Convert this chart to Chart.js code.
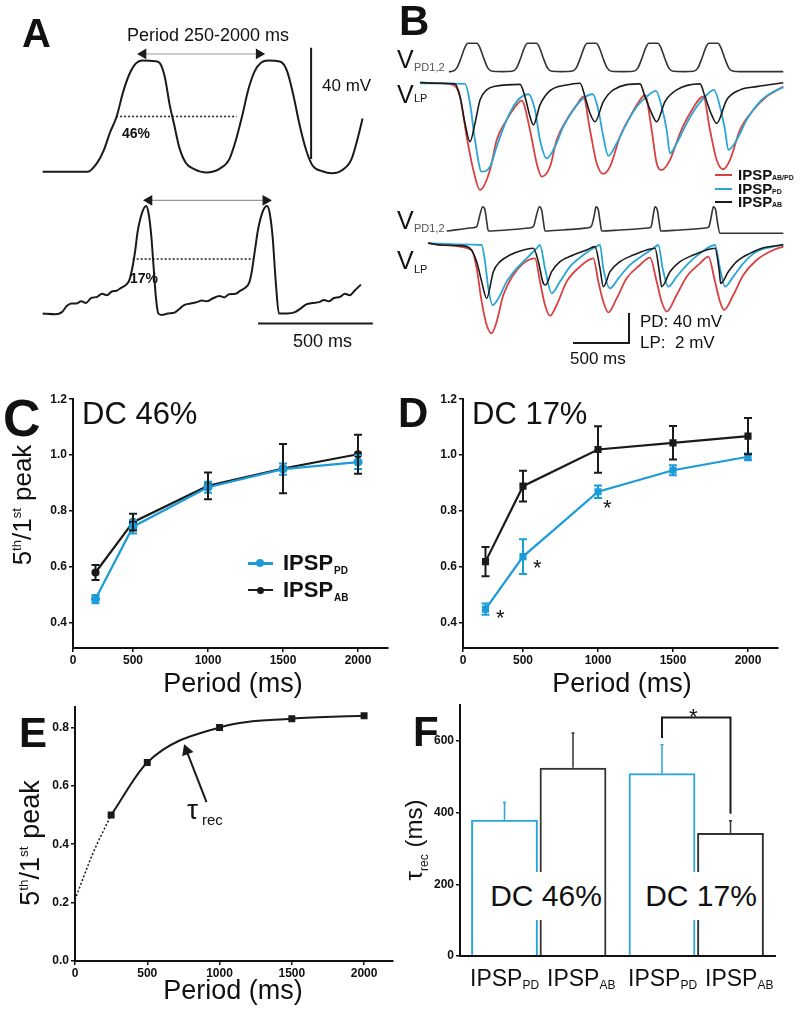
<!DOCTYPE html>
<html>
<head>
<meta charset="utf-8">
<script src="https://cdn.jsdelivr.net/npm/chart.js@4.4.1/dist/chart.umd.min.js"></script>
<style>
html, body { margin: 0; padding: 0; background: #fff; }
#fig { position: relative; width: 800px; height: 1015px; overflow: hidden; font-family: "Liberation Sans", Arial, sans-serif; color: #111; }
#fig canvas { position: absolute; }
.t { position: absolute; line-height: 1; white-space: pre; }
.b { font-weight: bold; }
.rot { position: absolute; line-height: 1; white-space: pre; transform: translate(-50%, -50%) rotate(-90deg); }
sup { font-size: 0.5em; vertical-align: 0.8em; line-height: 0; }
sub { line-height: 0; }
.box { position: absolute; background: #fff; font-size: 30px; line-height: 48px; height: 48px; text-align: center; }
.mk { position: absolute; }
</style>
</head>
<body>
<div id="fig">
<canvas id="aTop" style="left:30px;top:40px" width="350" height="150"></canvas>
<canvas id="aBot" style="left:30px;top:185px" width="350" height="150"></canvas>
<canvas id="bTop" style="left:415px;top:38px" width="375" height="162"></canvas>
<canvas id="bBot" style="left:415px;top:195px" width="375" height="155"></canvas>
<canvas id="cChart" style="left:0px;top:390px" width="400" height="305"></canvas>
<canvas id="dChart" style="left:390px;top:390px" width="410" height="305"></canvas>
<canvas id="eChart" style="left:0px;top:695px" width="400" height="320"></canvas>
<canvas id="fChart" style="left:390px;top:695px" width="410" height="320"></canvas>

<!-- A -->
<div class="t b" style="left:22px;top:13px;font-size:40px">A</div>
<div class="t" style="left:127px;top:26px;font-size:18px">Period 250-2000 ms</div>
<div class="t" style="left:322px;top:77px;font-size:17px">40 mV</div>
<div class="t b" style="left:122px;top:126px;font-size:14px">46%</div>
<div class="t b" style="left:130px;top:271px;font-size:14px">17%</div>
<div class="t" style="left:293px;top:332px;font-size:18px">500 ms</div>

<!-- B -->
<div class="t b" style="left:399px;top:0px;font-size:42px">B</div>
<div class="t" style="left:397px;top:47px;font-size:25px">V</div>
<div class="t" style="left:414px;top:62px;font-size:11px;color:#555">PD1,2</div>
<div class="t" style="left:397px;top:82px;font-size:25px">V</div>
<div class="t" style="left:414px;top:93px;font-size:11px">LP</div>
<div class="t" style="left:397px;top:208px;font-size:25px">V</div>
<div class="t" style="left:414px;top:223px;font-size:11px;color:#555">PD1,2</div>
<div class="t" style="left:397px;top:248px;font-size:25px">V</div>
<div class="t" style="left:414px;top:264px;font-size:11px">LP</div>
<div class="mk" style="left:715px;top:174px;width:17px;height:2px;background:#d94040"></div>
<div class="t b" style="left:738px;top:167px;font-size:15px">IPSP</div>
<div class="t b" style="left:772px;top:174px;font-size:7px">AB/PD</div>
<div class="mk" style="left:715px;top:188px;width:17px;height:2px;background:#2aa5d6"></div>
<div class="t b" style="left:738px;top:181px;font-size:15px">IPSP</div>
<div class="t b" style="left:772px;top:188px;font-size:7px">PD</div>
<div class="mk" style="left:715px;top:201px;width:17px;height:2px;background:#1a1a1a"></div>
<div class="t b" style="left:738px;top:194px;font-size:15px">IPSP</div>
<div class="t b" style="left:772px;top:201px;font-size:7px">AB</div>
<div class="t" style="left:640px;top:313px;font-size:17px">PD: 40 mV</div>
<div class="t" style="left:640px;top:334px;font-size:17px">LP:  2 mV</div>
<div class="t" style="left:570px;top:350px;font-size:17px">500 ms</div>

<!-- C -->
<div class="t b" style="left:3px;top:392px;font-size:52px">C</div>
<div class="t" style="left:82px;top:398px;font-size:31px">DC 46%</div>
<div class="rot" style="left:22px;top:505px;font-size:26px">5<sup>th</sup>/1<sup>st</sup> peak</div>
<div class="t" style="left:133px;top:670px;width:200px;text-align:center;font-size:27px">Period (ms)</div>
<div class="mk" style="left:248px;top:562px;width:25px;height:3px;background:#1b9bd8"></div>
<div class="mk" style="left:256px;top:559px;width:8px;height:8px;border-radius:50%;background:#1b9bd8"></div>
<div class="t b" style="left:283px;top:552px;font-size:22px">IPSP</div>
<div class="t b" style="left:334px;top:566px;font-size:10px">PD</div>
<div class="mk" style="left:248px;top:589px;width:25px;height:2px;background:#1a1a1a"></div>
<div class="mk" style="left:257px;top:587px;width:7px;height:7px;border-radius:50%;background:#1a1a1a"></div>
<div class="t b" style="left:283px;top:579px;font-size:22px">IPSP</div>
<div class="t b" style="left:334px;top:593px;font-size:10px">AB</div>

<!-- D -->
<div class="t b" style="left:398px;top:392px;font-size:42px">D</div>
<div class="t" style="left:472px;top:398px;font-size:31px">DC 17%</div>
<div class="t" style="left:522px;top:670px;width:200px;text-align:center;font-size:27px">Period (ms)</div>
<div class="t" style="left:496px;top:607px;font-size:22px">*</div>
<div class="t" style="left:533px;top:557px;font-size:22px">*</div>
<div class="t" style="left:603px;top:497px;font-size:22px">*</div>

<!-- E -->
<div class="t b" style="left:19px;top:712px;font-size:42px">E</div>
<div class="rot" style="left:30px;top:843px;font-size:27px">5<sup>th</sup>/1<sup>st</sup> peak</div>
<div class="t" style="left:133px;top:977px;width:200px;text-align:center;font-size:27px">Period (ms)</div>
<div class="t" style="left:187px;top:796px;font-size:28px">τ</div>
<div class="t" style="left:202px;top:812px;font-size:15px">rec</div>

<!-- F -->
<div class="t b" style="left:413px;top:711px;font-size:42px">F</div>
<div class="rot" style="left:414px;top:840px;font-size:24px">τ<sub style="font-size:12px">rec</sub> (ms)</div>
<div class="box" style="left:488px;top:872px;width:116px">DC 46%</div>
<div class="box" style="left:644px;top:872px;width:114px">DC 17%</div>
<div class="t" style="left:689px;top:706px;font-size:22px">*</div>
<div class="t" style="left:470px;top:967px;font-size:23px">IPSP<sub style="font-size:12px;vertical-align:-3px">PD</sub></div>
<div class="t" style="left:547px;top:967px;font-size:23px">IPSP<sub style="font-size:12px;vertical-align:-3px">AB</sub></div>
<div class="t" style="left:628px;top:967px;font-size:23px">IPSP<sub style="font-size:12px;vertical-align:-3px">PD</sub></div>
<div class="t" style="left:705px;top:967px;font-size:23px">IPSP<sub style="font-size:12px;vertical-align:-3px">AB</sub></div>
</div>

<script>
// ---- panel A traces: [ms, mV] ----
const aTop = [[0,0],[196,0],[238,3.3],[266,7.7],[294,14.3],[322,19.8],[350,28.6],[378,35.2],[406,39.0],[434,40.1],[490,39.8],[511,39.0],[532,34.1],[553,24.2],[574,16.5],[595,8.8],[623,3.3],[658,1.1],[714,-0.2],[770,1.1],[812,4.4],[840,11.0],[868,19.8],[896,29.7],[924,36.3],[952,39.3],[980,40.1],[1036,39.6],[1064,36.3],[1092,27.5],[1120,16.5],[1148,7.7],[1176,2.2],[1218,0.2],[1260,-0.5],[1302,0.5],[1344,4.4],[1372,12.1],[1393,19.2]]
const aBot = [[0,0],[56,-0.3],[84,0.5],[105,2.7],[126,3.6],[147,3.6],[168,4.4],[189,3.8],[210,5.5],[238,6.0],[259,7.1],[280,6.6],[301,7.9],[322,8.2],[343,9.3],[364,10.4],[378,12.1],[392,17.0],[403,22.5],[413,29.1],[427,34.6],[441,37.9],[451,38.7],[462,35.7],[473,28.0],[483,17.0],[493,6.0],[504,0],[518,-0.5],[546,0],[574,0.3],[595,1.6],[616,3.0],[644,3.6],[672,4.1],[693,4.7],[714,4.4],[742,5.5],[770,6.3],[791,5.8],[812,6.9],[840,7.1],[861,8.2],[882,9.3],[899,11.0],[910,14.8],[924,22.5],[938,30.2],[959,36.8],[977,38.7],[987,36.8],[1001,28.0],[1015,11.5],[1029,0],[1064,0],[1099,0.5],[1120,1.6],[1148,3.3],[1176,3.8],[1204,4.1],[1225,4.9],[1246,4.4],[1267,5.5],[1295,6.0],[1316,7.1],[1337,6.6],[1358,8.2],[1386,10.4]]
const aTopHalf = [[320,19.9],[845,19.9]]
const aBotHalf = [[392,19.6],[917,19.6]]
const aTopPeriod = [[438,42.4],[942,42.4]]
const aBotPeriod = [[464,40.7],[971,40.7]]
const aVoltBar = [[1169,4.6],[1169,44.6]]
const aTimeBar = [[938,-3.6],[1438,-3.6]]

// ---- panel B traces: [ms, mV] ----
const bTopPD = [[80,0],[111,0.5],[151,5],[191,20],[226,35],[251,40],[331,40],[356,35],[391,20],[431,5],[471,0.5],[560,0],[648,0.5],[688,5],[728,20],[763,35],[788,40],[868,40],[893,35],[928,20],[968,5],[1008,0.5],[1097,0],[1185,0.5],[1225,5],[1265,20],[1300,35],[1325,40],[1405,40],[1430,35],[1465,20],[1505,5],[1545,0.5],[1643,0],[1740,0.5],[1780,5],[1820,20],[1855,35],[1880,40],[1960,40],[1985,35],[2020,20],[2060,5],[2100,0.5],[2190,0],[2280,0.5],[2320,5],[2360,20],[2395,35],[2420,40],[2500,40],[2525,35],[2560,20],[2600,5],[2640,0.5],[2700,0],[3090,0]]
const bTopRed = [[-180,0.05],[0,0],[120,-0.11],[180,-0.89],[240,-3.56],[300,-5.78],[360,-7.11],[450,-5.78],[510,-3.78],[600,-2.44],[690,-1.44],[735,-1.16],[810,-3.11],[870,-5.33],[915,-6.22],[990,-5.56],[1050,-3.78],[1140,-2.44],[1230,-1.44],[1290,-0.89],[1350,-3.11],[1410,-5.33],[1470,-6.04],[1530,-5.56],[1620,-3.56],[1710,-2.22],[1800,-1.11],[1845,-0.78],[1905,-3.11],[1950,-5.33],[1995,-5.78],[2070,-5.11],[2160,-3.33],[2250,-2.0],[2370,-0.89],[2430,-3.11],[2490,-5.11],[2550,-5.73],[2610,-5.11],[2700,-3.11],[2820,-1.78],[2940,-0.89],[3090,-0.22]]
const bTopBlue = [[-180,0],[0,0],[225,-0.04],[270,-1.33],[315,-3.78],[375,-5.89],[450,-5.56],[510,-4.22],[600,-2.44],[690,-1.22],[795,-0.73],[855,-1.78],[900,-3.78],[960,-5.0],[1035,-4.22],[1110,-2.89],[1200,-1.78],[1290,-1.0],[1374,-0.73],[1425,-1.78],[1470,-3.56],[1515,-4.84],[1590,-4.0],[1680,-2.67],[1770,-1.56],[1860,-0.89],[1944,-0.51],[1995,-1.56],[2040,-3.11],[2070,-4.67],[2130,-4.0],[2220,-2.67],[2310,-1.56],[2400,-0.78],[2466,-0.44],[2520,-1.56],[2565,-3.11],[2595,-4.44],[2670,-3.78],[2760,-2.44],[2880,-1.22],[3000,-0.56],[3090,-0.27]]
const bTopBlack = [[-180,0.05],[0,0],[135,-0.04],[180,-0.89],[225,-2.67],[270,-3.89],[315,-2.67],[360,-1.11],[420,-0.44],[510,-0.18],[720,-0.07],[765,-0.89],[810,-2.22],[840,-2.78],[900,-1.44],[990,-0.49],[1140,-0.11],[1260,0],[1305,-0.89],[1350,-2.0],[1395,-2.56],[1470,-1.22],[1560,-0.44],[1800,-0.04],[1845,-0.89],[1905,-2.0],[1950,-2.56],[2025,-1.22],[2130,-0.44],[2340,-0.04],[2385,-0.89],[2445,-2.11],[2490,-2.67],[2580,-1.11],[2700,-0.44],[2850,-0.22],[3090,0.04]]
const bBotPD = [[60,0],[300,4.4],[330,5.8],[360,22],[384,32.4],[405,28],[420,13],[435,0],[600,1.3],[800,4],[840,5.8],[870,22],[894,32.4],[915,28],[930,13],[945,0],[1100,1.3],[1320,4],[1360,5.8],[1390,22],[1404,32.4],[1425,28],[1440,13],[1455,0],[1620,1.3],[1870,4],[1900,5.8],[1920,22],[1935,32.4],[1956,28],[1971,13],[1986,0],[2150,1.3],[2390,4],[2420,5.8],[2445,22],[2460,32.4],[2481,28],[2496,13],[2520,-3],[3090,-3]]
const bBotRed = [[-108,0.13],[0,0],[285,-0.33],[330,-1.56],[375,-3.78],[420,-5.33],[465,-5.89],[510,-5.11],[570,-3.33],[660,-2.0],[750,-1.22],[855,-0.89],[900,-2.44],[945,-4.0],[990,-4.71],[1050,-4.0],[1140,-2.44],[1260,-1.44],[1380,-0.89],[1425,-2.44],[1470,-3.78],[1515,-4.49],[1590,-3.56],[1680,-2.22],[1800,-1.33],[1890,-0.84],[1950,-2.44],[1995,-3.78],[2040,-4.44],[2130,-3.33],[2220,-2.11],[2340,-1.22],[2415,-0.78],[2475,-2.44],[2520,-3.78],[2556,-4.33],[2640,-3.33],[2730,-2.0],[2850,-1.0],[3000,-0.33],[3090,-0.11]]
const bBotBlue = [[-108,0.13],[180,0.04],[375,0],[405,-1.11],[435,-2.89],[474,-4.0],[525,-3.56],[600,-2.44],[690,-1.56],[780,-0.89],[870,-0.22],[900,0],[945,-1.56],[1005,-3.22],[1080,-2.44],[1170,-1.44],[1290,-0.67],[1380,-0.22],[1440,0],[1470,-1.56],[1530,-2.89],[1605,-2.22],[1710,-1.33],[1830,-0.67],[1920,-0.22],[1965,0],[2004,-1.56],[2055,-2.78],[2130,-2.11],[2235,-1.22],[2340,-0.56],[2430,-0.11],[2475,0],[2520,-1.56],[2565,-2.78],[2640,-2.11],[2730,-1.22],[2850,-0.44],[3000,-0.11],[3090,0.04]]
const bBotBlack = [[-108,0.13],[0,0],[180,-0.04],[270,-0.22],[330,-1.11],[375,-2.44],[420,-3.56],[480,-1.78],[540,-1.11],[630,-0.67],[750,-0.33],[840,-0.22],[885,-1.11],[930,-2.56],[950,-2.67],[1005,-1.78],[1080,-1.11],[1200,-0.67],[1320,-0.33],[1395,-0.11],[1440,-1.56],[1470,-2.78],[1530,-1.78],[1620,-1.11],[1740,-0.67],[1860,-0.33],[1935,-0.22],[1974,-1.78],[1995,-2.78],[2070,-1.78],[2160,-1.11],[2280,-0.67],[2400,-0.33],[2475,-0.22],[2514,-1.78],[2526,-2.56],[2595,-1.78],[2670,-1.11],[2790,-0.56],[2910,-0.18],[3090,0]]
const bScaleBar = [[1197,-149.3],[1701,-149.3],[1701,-109.3]]

// ---- panels C and D: 5th/1st peak vs period ----
const periods = [250, 500, 1000, 1500, 2000]
const cPD = [0.485, 0.744, 0.885, 0.95, 0.975]
const cPDerr = [0.015, 0.024, 0.02, 0.02, 0.025]
const cAB = [0.58, 0.76, 0.89, 0.952, 1.003]
const cABerr = [0.027, 0.03, 0.048, 0.088, 0.07]
const dPD = [0.449, 0.637, 0.869, 0.946, 0.994]
const dPDerr = [0.02, 0.062, 0.022, 0.018, 0.012]
const dAB = [0.619, 0.889, 1.02, 1.044, 1.068]
const dABerr = [0.052, 0.055, 0.083, 0.06, 0.065]
const cdTicksX = [100, 500, 1000, 1500, 2000]
const cdLabelsX = ['0', '500', '1000', '1500', '2000']
const cdTicksY = [0.4, 0.6, 0.8, 1.0, 1.2]

// ---- panel E ----
const ePeriods = [250, 500, 1000, 1500, 2000]
const eRatio = [0.50, 0.68, 0.80, 0.83, 0.84]
const eExtrap = [[0, 0.21], [125, 0.37], [250, 0.50]]
const eArrow = [[910, 0.544], [772, 0.72]]
const eTicksX = [0, 500, 1000, 1500, 2000]
const eTicksY = [0, 0.2, 0.4, 0.6, 0.8]

// ---- panel F ----
const fGroups = ['DC 46%', 'DC 17%']
const fPD = [380, 510]
const fPDerr = [48, 79]
const fAB = [525, 343]
const fABerr = [97, 34]
const fBracket = [608, 665, 397]
const fTicksY = [0, 200, 400, 600]

const RED = '#d94040', BLUE = '#2aa5d6', BLK = '#1a1a1a', CBLUE = '#1b9bd8'

Chart.defaults.font.family = '"Liberation Sans", Arial, sans-serif'
Chart.defaults.color = '#111'

const xy = arr => arr.map(p => ({ x: p[0], y: p[1] }))

function trace(data, color, width, axis, extra) {
    return Object.assign({
        data: xy(data), borderColor: color, borderWidth: width, pointRadius: 0,
        cubicInterpolationMode: 'monotone', yAxisID: axis || 'y'
    }, extra || {})
}

function arrow(data, color) {
    return {
        data: xy(data), borderColor: '#999', borderWidth: 1.2,
        pointStyle: 'triangle', pointRadius: 5, pointRotation: [270, 90],
        pointBackgroundColor: color, pointBorderColor: color
    }
}

function traceOpts(xmin, xmax, yScales) {
    const scales = { x: { type: 'linear', display: false, min: xmin, max: xmax } }
    for (const k in yScales) {
        scales[k] = { type: 'linear', display: false, min: yScales[k][0], max: yScales[k][1] }
    }
    return {
        responsive: false, animation: false, events: [],
        layout: { padding: 0 },
        plugins: { legend: { display: false }, tooltip: { enabled: false } },
        scales: scales
    }
}

// A
new Chart(document.getElementById('aTop'), {
    type: 'line',
    data: { datasets: [
        trace(aTop, BLK, 2),
        trace(aTopHalf, BLK, 1.5, 'y', { borderDash: [2, 2] }),
        arrow(aTopPeriod, BLK),
        trace(aVoltBar, BLK, 2)
    ] },
    options: traceOpts(-28, 1442, { y: [-4.3, 45.2] })
})

new Chart(document.getElementById('aBot'), {
    type: 'line',
    data: { datasets: [
        trace(aBot, BLK, 2),
        trace(aBotHalf, BLK, 1.5, 'y', { borderDash: [2, 2] }),
        arrow(aBotPeriod, BLK),
        trace(aTimeBar, BLK, 2)
    ] },
    options: traceOpts(-28, 1442, { y: [-5.5, 44.0] })
})

// B
new Chart(document.getElementById('bTop'), {
    type: 'line',
    data: { datasets: [
        trace(bTopBlack, BLK, 1.6, 'lp'),
        trace(bTopBlue, BLUE, 1.8, 'lp'),
        trace(bTopRed, RED, 1.8, 'lp'),
        trace(bTopPD, '#333', 1.6, 'pd')
    ] },
    options: traceOpts(-225, 3150, { pd: [-181.2, 47.5], lp: [-7.78, 3.02] })
})

new Chart(document.getElementById('bBot'), {
    type: 'line',
    data: { datasets: [
        trace(bBotBlack, BLK, 1.6, 'lp'),
        trace(bBotBlue, BLUE, 1.8, 'lp'),
        trace(bBotRed, RED, 1.8, 'lp'),
        trace(bBotPD, '#333', 1.6, 'pd'),
        trace(bScaleBar, BLK, 2, 'pd', { cubicInterpolationMode: 'default', tension: 0 })
    ] },
    options: traceOpts(-225, 3150, { pd: [-158.7, 48], lp: [-7.0, 3.333] })
})

// error bars drawn through the chart scales
const errorBars = {
    id: 'errorBars',
    afterDatasetsDraw(chart) {
        const ctx = chart.ctx
        chart.data.datasets.forEach((ds, i) => {
            if (!ds.errors) return
            const meta = chart.getDatasetMeta(i)
            const ys = chart.scales[meta.yAxisID]
            ctx.save()
            ctx.strokeStyle = ds.borderColor
            ctx.lineWidth = ds.errWidth || 2
            meta.data.forEach((el, j) => {
                const v = typeof ds.data[j] === 'object' ? ds.data[j].y : ds.data[j]
                const top = ys.getPixelForValue(v + ds.errors[j])
                const bot = ds.upOnly ? el.y : ys.getPixelForValue(v - ds.errors[j])
                const c = ds.capHalf || 4
                ctx.beginPath()
                ctx.moveTo(el.x, top); ctx.lineTo(el.x, bot)
                ctx.moveTo(el.x - c, top); ctx.lineTo(el.x + c, top)
                if (!ds.upOnly) { ctx.moveTo(el.x - c, bot); ctx.lineTo(el.x + c, bot) }
                ctx.stroke()
            })
            ctx.restore()
        })
    }
}

function axisOpts(o) {
    const tickFont = { size: 12, weight: 'bold' }
    return {
        responsive: false, animation: false, events: [],
        layout: { padding: { top: o.top, right: o.right, left: 0, bottom: 0 } },
        plugins: { legend: { display: false }, tooltip: { enabled: false } },
        scales: {
            x: o.xCat ? {
                type: 'category',
                ticks: { display: false },
                grid: { display: false },
                border: { display: true, color: '#111', width: 2 },
                afterFit: s => { s.height = o.xh }
            } : {
                type: 'linear', min: o.xmin, max: o.xmax,
                afterBuildTicks: s => { s.ticks = o.xt.map(v => ({ value: v })) },
                ticks: { font: tickFont, color: '#111', padding: 1, maxRotation: 0, autoSkip: false, callback: (v, i) => o.xl[i] },
                grid: { drawOnChartArea: false, tickLength: 4, color: '#111', lineWidth: 1.5 },
                border: { display: true, color: '#111', width: 2 },
                afterFit: s => { s.height = o.xh }
            },
            y: {
                type: 'linear', min: o.ymin, max: o.ymax,
                afterBuildTicks: s => { s.ticks = o.yt.map(v => ({ value: v })) },
                ticks: { font: tickFont, color: '#111', padding: 2, callback: o.yl },
                grid: { drawOnChartArea: false, tickLength: 4, color: '#111', lineWidth: 1.5 },
                border: { display: true, color: '#111', width: 2 },
                afterFit: s => { s.width = o.yw }
            }
        }
    }
}

function series(vals, errs, color, style, r) {
    return {
        data: periods.map((p, i) => ({ x: p, y: vals[i] })), errors: errs,
        borderColor: color, backgroundColor: color, pointBackgroundColor: color, pointBorderColor: color,
        borderWidth: 2.2, pointStyle: style, pointRadius: r, tension: 0, capHalf: 4
    }
}

const fixed1 = v => v.toFixed(1)

// C
new Chart(document.getElementById('cChart'), {
    type: 'line',
    data: { datasets: [
        series(cPD, cPDerr, CBLUE, 'circle', 3.5),
        series(cAB, cABerr, BLK, 'circle', 3)
    ] },
    options: axisOpts({ top: 9, right: 12, xh: 47, yw: 73, xmin: 100, xmax: 2200, xt: cdTicksX, xl: cdLabelsX, ymin: 0.31, ymax: 1.2, yt: cdTicksY, yl: fixed1 }),
    plugins: [errorBars]
})

// D
new Chart(document.getElementById('dChart'), {
    type: 'line',
    data: { datasets: [
        series(dPD, dPDerr, CBLUE, 'rect', 3.5),
        series(dAB, dABerr, BLK, 'rect', 3.5)
    ] },
    options: axisOpts({ top: 9, right: 22, xh: 47, yw: 73, xmin: 100, xmax: 2200, xt: cdTicksX, xl: cdLabelsX, ymin: 0.31, ymax: 1.2, yt: cdTicksY, yl: fixed1 }),
    plugins: [errorBars]
})

// E
new Chart(document.getElementById('eChart'), {
    type: 'line',
    data: { datasets: [
        {
            data: ePeriods.map((p, i) => ({ x: p, y: eRatio[i] })),
            borderColor: BLK, backgroundColor: BLK, borderWidth: 2,
            pointStyle: 'rect', pointRadius: 3.5, cubicInterpolationMode: 'monotone'
        },
        trace(eExtrap, BLK, 1.5, 'y', { borderDash: [2, 2] }),
        {
            data: xy(eArrow), borderColor: BLK, borderWidth: 2,
            pointStyle: 'triangle', pointRadius: [0, 5], pointRotation: [0, -21],
            pointBackgroundColor: BLK, pointBorderColor: BLK
        }
    ] },
    options: axisOpts({ top: 12, right: 6, xh: 54, yw: 75, xmin: 0, xmax: 2200, xt: eTicksX, xl: eTicksX.map(String), ymin: 0, ymax: 0.87, yt: eTicksY, yl: fixed1 })
})

// F
const bracket = {
    id: 'bracket',
    afterDatasetsDraw(chart) {
        const ctx = chart.ctx
        const ys = chart.scales.y
        const xl = chart.getDatasetMeta(0).data[1].x
        const xr = chart.getDatasetMeta(1).data[1].x
        ctx.save()
        ctx.strokeStyle = BLK
        ctx.lineWidth = 2
        ctx.beginPath()
        ctx.moveTo(xl, ys.getPixelForValue(fBracket[0]))
        ctx.lineTo(xl, ys.getPixelForValue(fBracket[1]))
        ctx.lineTo(xr, ys.getPixelForValue(fBracket[1]))
        ctx.lineTo(xr, ys.getPixelForValue(fBracket[2]))
        ctx.stroke()
        ctx.restore()
    }
}

new Chart(document.getElementById('fChart'), {
    type: 'bar',
    data: {
        labels: fGroups,
        datasets: [
            { data: fPD, errors: fPDerr, upOnly: true, capHalf: 1.5, errWidth: 1.5, backgroundColor: 'rgba(255,255,255,0)', borderColor: BLUE, borderWidth: 2 },
            { data: fAB, errors: fABerr, upOnly: true, capHalf: 1.5, errWidth: 1.5, backgroundColor: 'rgba(255,255,255,0)', borderColor: '#333', borderWidth: 2 }
        ]
    },
    options: Object.assign(axisOpts({ top: 10, right: 25, xh: 59, yw: 70, xCat: true, ymin: 0, ymax: 700, yt: fTicksY, yl: v => String(v) }), {
        datasets: { bar: { categoryPercentage: 0.87, barPercentage: 0.975 } }
    }),
    plugins: [errorBars, bracket]
})
</script>
</body>
</html>
